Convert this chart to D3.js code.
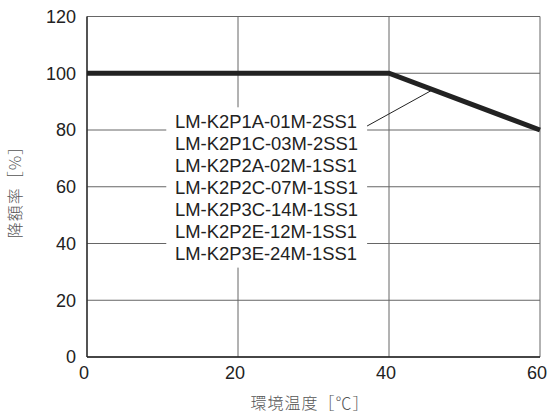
<!DOCTYPE html>
<html><head><meta charset="utf-8">
<script src="https://cdn.jsdelivr.net/npm/d3@7"></script>
<style>body{margin:0;background:#fff}svg{display:block}</style>
</head><body>
<script>
const xTicks = [0, 20, 40, 60];
const yTicks = [0, 20, 40, 60, 80, 100, 120];
const temps = [0, 40, 60];
const derating = [100, 100, 80];
const models = ["LM-K2P1A-01M-2SS1","LM-K2P1C-03M-2SS1","LM-K2P2A-02M-1SS1","LM-K2P2C-07M-1SS1","LM-K2P3C-14M-1SS1","LM-K2P2E-12M-1SS1","LM-K2P3E-24M-1SS1"];
const xTitle = "環境温度［℃］";
const yTitle = "降額率［%］";
// annotation: label box extent in data units and leader line (from, to on curve)
const boxX = [10.5, 37.1], boxY = [88, 31.5];
const leaderFrom = [37.1, 81.4], leaderToTemp = 45.8;

const W = 550, H = 414;
const m = {l: 87, r: 10, t: 16.5, b: 57};
const svg = d3.select("body").append("svg").attr("width", W).attr("height", H);
const x = d3.scaleLinear().domain([0, 60]).range([m.l, W - m.r]);
const y = d3.scaleLinear().domain([0, 120]).range([H - m.b, m.t]);

// grid
const g = svg.append("g");
g.selectAll(".vg").data(xTicks).join("line")
  .attr("x1", d => x(d)).attr("x2", d => x(d)).attr("y1", y(0)).attr("y2", y(120))
  .attr("stroke", "#666").attr("stroke-width", 1);
g.selectAll(".hg").data(yTicks).join("line")
  .attr("x1", x(0)).attr("x2", x(60)).attr("y1", d => y(d)).attr("y2", d => y(d))
  .attr("stroke", "#666").attr("stroke-width", 1);

// label box background
svg.append("rect").attr("x", x(boxX[0])).attr("width", x(boxX[1]) - x(boxX[0]))
  .attr("y", y(boxY[0])).attr("height", y(boxY[1]) - y(boxY[0])).attr("fill", "#fff");

// axes (left & bottom darker)
svg.append("line").attr("x1", x(0)).attr("x2", x(0)).attr("y1", y(0)).attr("y2", y(120)).attr("stroke", "#222").attr("stroke-width", 1.3);
svg.append("line").attr("x1", x(0)).attr("x2", x(60)).attr("y1", y(0)).attr("y2", y(0)).attr("stroke", "#222").attr("stroke-width", 1.3);

// tick labels
svg.selectAll(".yt").data(yTicks).join("text")
  .attr("x", x(0) - 11).attr("y", d => y(d)).attr("dy", "0.36em")
  .attr("text-anchor", "end").attr("font-family", "Liberation Sans, Arial, sans-serif")
  .attr("font-size", 18).attr("fill", "#222").text(d => d);
svg.selectAll(".xt").data(xTicks).join("text")
  .attr("x", d => x(d) - 3).attr("y", y(0) + 16).attr("dy", "0.36em")
  .attr("text-anchor", "middle").attr("font-family", "Liberation Sans, Arial, sans-serif")
  .attr("font-size", 18).attr("fill", "#222").text(d => d);

// titles
svg.append("text").attr("x", 310).attr("y", 403).attr("dy", "0.36em")
  .attr("text-anchor", "middle").attr("font-family", "Noto Sans CJK JP").attr("font-weight", 300)
  .attr("font-size", 16).attr("letter-spacing", 1).attr("fill", "#555").text(xTitle);
svg.append("text").attr("transform", "translate(15,188) rotate(-90)").attr("dy", "0.36em")
  .attr("text-anchor", "middle").attr("font-family", "Noto Sans CJK JP").attr("font-weight", 300)
  .attr("font-size", 16).attr("letter-spacing", 1).attr("fill", "#555").text(yTitle);

// curve
const pts = temps.map((t, i) => [t, derating[i]]);
svg.append("path").datum(pts)
  .attr("d", d3.line().x(d => x(d[0])).y(d => y(d[1])))
  .attr("fill", "none").attr("stroke", "#222").attr("stroke-width", 5).attr("stroke-linejoin", "miter");

// leader line
const interp = d3.scaleLinear().domain(temps).range(derating);
svg.append("line").attr("x1", x(leaderFrom[0])).attr("y1", y(leaderFrom[1]))
  .attr("x2", x(leaderToTemp)).attr("y2", y(interp(leaderToTemp)))
  .attr("stroke", "#222").attr("stroke-width", 1);

// model labels
svg.selectAll(".ml").data(models).join("text")
  .attr("x", 175).attr("y", (d, i) => 121 + i * 22).attr("dy", "0.36em")
  .attr("font-family", "Liberation Sans, Arial, sans-serif").attr("font-size", 18.4)
  .attr("fill", "#222").text(d => d);
</script>
</body></html>
